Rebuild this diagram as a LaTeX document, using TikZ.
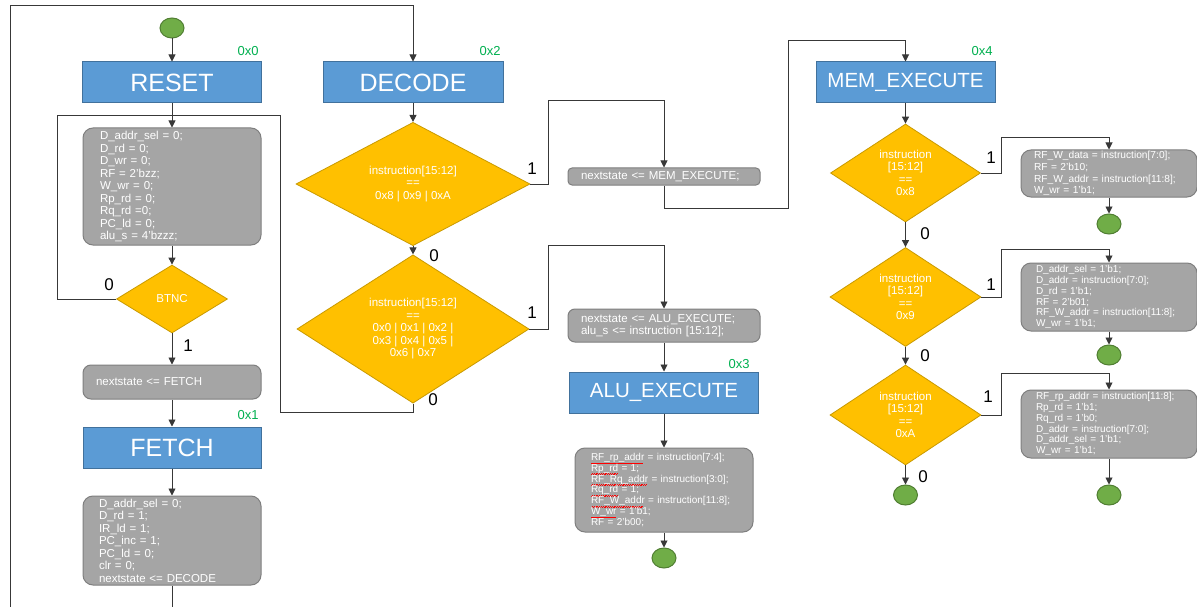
\documentclass[tikz,border=0pt]{standalone}
\usepackage{fontspec}
\setmainfont{Liberation Sans}
\usetikzlibrary{shapes.geometric,arrows.meta}
\definecolor{bluef}{HTML}{5B9BD5}
\definecolor{blued}{HTML}{41719C}
\definecolor{grayf}{HTML}{A5A5A5}
\definecolor{grayd}{HTML}{7F7F7F}
\definecolor{yelf}{HTML}{FFC000}
\definecolor{yeld}{HTML}{C99A00}
\definecolor{grnf}{HTML}{70AD47}
\definecolor{grnd}{HTML}{507E32}
\definecolor{hexg}{HTML}{00B050}
\newsavebox\sqbox
\newcommand\sqw[1]{\leavevmode\sbox\sqbox{#1}\rlap{\color{red}\hbox to \wd\sqbox{\leaders\hbox{\rule[-3.3pt]{0.9pt}{0.55pt}\rule[-2.6pt]{0.9pt}{0.55pt}}\hfill}}#1}
\newcommand\fsA{\fontsize{11.5}{12.5}\selectfont}
\newcommand\fsB{\fontsize{11.5}{12}\selectfont}
\newcommand\fsC{\fontsize{10}{10.8}\selectfont}
\newcommand\fsD{\fontsize{10.2}{11.7}\selectfont}
\newcommand\fsE{\fontsize{10}{10.9}\selectfont}
\newcommand\fsM{\fontsize{11.5}{12.3}\selectfont}
\begin{document}
\begin{tikzpicture}[x=1pt,y=-1pt,
  statebox/.style={draw=blued, fill=bluef, line width=1pt, text=white, inner sep=0pt,
    minimum width=#1, minimum height=41},
  bigtxt/.style={font=\fontsize{25}{25}\selectfont},
  midtxt/.style={font=\fontsize{20.5}{20.5}\selectfont},
  actbox/.style n args={3}{draw=grayd, fill=grayf, line width=1pt, rounded corners=10,
    text=white, align=left, text width=#1, inner xsep=#2, inner ysep=0pt, minimum height=#3},
  decbox/.style 2 args={shape=diamond, draw=yeld, fill=yelf, line width=0.8pt, text=white,
    inner sep=0pt, minimum width=#1, minimum height=#2, align=center},
  endpt/.style={shape=ellipse, draw=grnd, fill=grnf, line width=1pt, minimum width=24,
    minimum height=20, inner sep=0pt},
  lbl/.style={font=\fontsize{17}{17}\selectfont, inner sep=0pt},
  hex/.style={text=hexg, font=\fontsize{13}{13}\selectfont, inner sep=0pt},
  conn/.style={draw=black!78, line width=0.9pt},
  arr/.style={conn, -{Triangle[length=7pt,width=7pt]}}]
\useasboundingbox (0,0) rectangle (1197,607);
\fill[white] (0,0) rectangle (1197,607);
\clip (0,0) rectangle (1197,607);

% ---------- column 1 ----------
\node[endpt] (start) at (172,28) {};
\node[statebox=179, bigtxt] (reset) at (172,82.5) {RESET};
\node[hex] (h0) at (248,51) {0x0};
\node[actbox={144}{17}{117}, font=\fsA] (g1) at (172,186.5)
  {D\_addr\_sel = 0;\\D\_rd = 0;\\D\_wr = 0;\\RF = 2'bzz;\\W\_wr = 0;\\Rp\_rd = 0;\\Rq\_rd =0;\\PC\_ld = 0;\\alu\_s = 4'bzzz;};
\node[decbox={111}{68}, font=\fsA] (btnc) at (172,299) {BTNC};
\node[lbl] (l0a) at (109,285) {0};
\node[lbl] (l1a) at (188,346) {1};
\node[actbox={152}{13}{34}, font=\fsA, rounded corners=8] (nsf) at (172,382) {nextstate <= FETCH};
\node[hex] (h1) at (248,415) {0x1};
\node[statebox=178, bigtxt] (fetch) at (172,447.5) {FETCH};
\node[actbox={146}{16}{89}, font=\fsA] (g2) at (172,540.5)
  {D\_addr\_sel = 0;\\D\_rd = 1;\\IR\_ld = 1;\\PC\_inc = 1;\\PC\_ld = 0;\\clr = 0;\\nextstate <= DECODE};

% ---------- column 2 ----------
\node[statebox=180, bigtxt] (decode) at (413,82.5) {DECODE};
\node[hex] (h2) at (490,51) {0x2};
\node[decbox={234}{122}, font=\fsA] (d1) at (413,184)
  {instruction[15:12]\\==\\0x8 | 0x9 | 0xA};
\node[lbl] (l1b) at (532,169) {1};
\node[lbl] (l0b) at (434,256) {0};
\node[decbox={232}{122}, font=\fsA] (d2) at (413,329)
  {instruction[15:12]\\==\\0x0 | 0x1 | 0x2 |\\0x3 | 0x4 | 0x5 |\\0x6 | 0x7};
\node[lbl] (l1c) at (532,313) {1};
\node[lbl] (l0c) at (433,400) {0};

% ---------- column 3 ----------
\node[actbox={166}{13}{17}, font=\fsB, rounded corners=4] (nsmem) at (664,176.5) {nextstate <= MEM\_EXECUTE;};
\node[actbox={166}{13}{33}, font=\fsB, rounded corners=7] (nsalu) at (664,325.5)
  {nextstate <= ALU\_EXECUTE;\\alu\_s <= instruction [15:12];};
\node[hex] (h3) at (739,364) {0x3};
\node[statebox=189, midtxt] (alu) at (664,392.5) {ALU\_EXECUTE};
\node[actbox={146}{16}{84}, font=\fsC] (g3) at (664,490)
  {\sqw{RF\_rp\_addr} = instruction[7:4];\\\sqw{Rp\_rd} = 1;\\\sqw{RF\_Rq\_addr} = instruction[3:0];\\\sqw{Rq\_rd} = 1;\\\sqw{RF\_W\_addr} = instruction[11:8];\\\sqw{W\_wr} = 1'b1;\\RF = 2'b00;};
\node[endpt] (e1) at (664,558) {};

% ---------- column 4 ----------
\node[statebox=179, midtxt] (mem) at (905.5,82.5) {MEM\_EXECUTE};
\node[hex] (h4) at (982,51) {0x4};
\node[decbox={150}{98}, font=\fsM] (m1) at (905.5,173) {instruction\\{[15:12]}\\==\\0x8};
\node[lbl] (l1d) at (991,158) {1};
\node[lbl] (l0d) at (925,234) {0};
\node[decbox={151}{99}, font=\fsM] (m2) at (905.5,297) {instruction\\{[15:12]}\\==\\0x9};
\node[lbl] (l1e) at (991,285) {1};
\node[lbl] (l0e) at (925,356) {0};
\node[decbox={151}{100}, font=\fsM] (m3) at (905.5,415) {instruction\\{[15:12]}\\==\\0xA};
\node[lbl] (l1f) at (988,397) {1};
\node[lbl] (l0f) at (923,477) {0};
\node[endpt] (e4) at (905.5,495) {};

\node[actbox={150}{13}{47}, font=\fsD] (mb1) at (1109,173.5)
  {RF\_W\_data = instruction[7:0];\\RF = 2'b10;\\RF\_W\_addr = instruction[11:8];\\W\_wr = 1'b1;};
\node[endpt] (e2) at (1109,224) {};
\node[actbox={146}{15}{68}, font=\fsE] (mb2) at (1109,297)
  {D\_addr\_sel = 1'b1;\\D\_addr = instruction[7:0];\\D\_rd = 1'b1;\\RF = 2'b01;\\RF\_W\_addr = instruction[11:8];\\W\_wr = 1'b1;};
\node[endpt] (e3) at (1109,355) {};
\node[actbox={146}{15}{68}, font=\fsE] (mb3) at (1109,424)
  {RF\_rp\_addr = instruction[11:8];\\Rp\_rd = 1'b1;\\Rq\_rd = 1'b0;\\D\_addr = instruction[7:0];\\D\_addr\_sel = 1'b1;\\W\_wr = 1'b1;};
\node[endpt] (e5) at (1109,495) {};

% ---------- corner coordinates ----------
\coordinate (cBL) at (10,625);
\coordinate (cTL) at (10,5);
\coordinate (cL1) at (57,115);
\coordinate (cR1) at (280,115);
\coordinate (cR2) at (280,412);
\coordinate (k1) at (548,100);
\coordinate (k2) at (788,208);
\coordinate (k3) at (788,40);
\coordinate (k4) at (548,245);
\coordinate (k5) at (1001,137);
\coordinate (k6) at (1001,249);
\coordinate (k7) at (1001,373);

% ---------- connectors ----------
\draw[arr] (start.south) -- (reset.north);
\draw[arr] (reset.south) -- (g1.north);
\draw[arr] (g1.south) -- (btnc.north);
\draw[arr] (btnc.south) -- (nsf.north);
\draw[arr] (nsf.south) -- (fetch.north);
\draw[arr] (fetch.south) -- (g2.north);
\draw[arr] (g2.south) |- (cBL) -- (cTL) -| (decode.north);
\draw[conn] (btnc.west) -| (cL1) -- (cR1);
\draw[conn] (d2.south) |- (cR2) -- (cR1);
\draw[arr] (decode.south) -- (d1.north);
\draw[arr] (d1.south) -- (d2.north);
\draw[arr] (d1.east) -| (k1) -| (nsmem.north);
\draw[arr] (nsmem.south) |- (k2) -- (k3) -| (mem.north);
\draw[arr] (d2.east) -| (k4) -| (nsalu.north);
\draw[arr] (nsalu.south) -- (alu.north);
\draw[arr] (alu.south) -- (g3.north);
\draw[arr] (g3.south) -- (e1.north);
\draw[arr] (mem.south) -- (m1.north);
\draw[arr] (m1.south) -- (m2.north);
\draw[arr] (m2.south) -- (m3.north);
\draw[arr] (m3.south) -- (e4.north);
\draw[arr] (m1.east) -| (k5) -| (mb1.north);
\draw[arr] (mb1.south) -- (e2.north);
\draw[arr] (m2.east) -| (k6) -| (mb2.north);
\draw[arr] (mb2.south) -- (e3.north);
\draw[arr] (m3.east) -| (k7) -| (mb3.north);
\draw[arr] (mb3.south) -- (e5.north);
\end{tikzpicture}
\end{document}
